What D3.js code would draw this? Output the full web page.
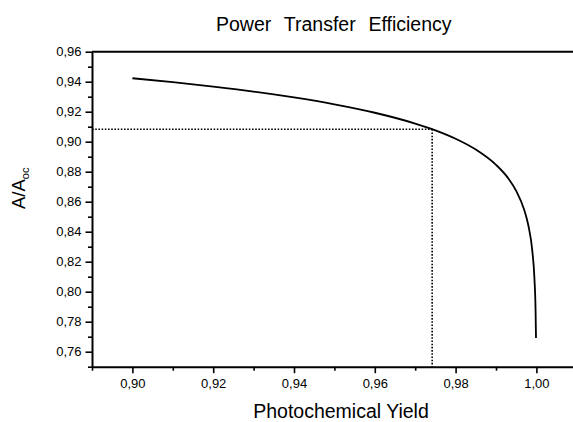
<!DOCTYPE html>
<html>
<head>
<meta charset="utf-8">
<script src="https://cdn.jsdelivr.net/npm/d3@7/dist/d3.min.js"></script>
<style>
  html, body { margin: 0; padding: 0; background: #fff; overflow: hidden; }
  svg { display: block; font-family: "Liberation Sans", Arial, sans-serif; }
</style>
</head>
<body>
<svg id="chart" width="573" height="422"></svg>
<script>
// ---- data ----
const yieldValues = [0.900, 0.910, 0.920, 0.930, 0.940, 0.950, 0.960, 0.970, 0.975, 0.980,
                     0.985, 0.990, 0.993, 0.995, 0.997, 0.998, 0.999, 0.9995, 0.9998, 0.9999];
const ratioValues = [0.9423, 0.9397, 0.9367, 0.9334, 0.9295, 0.9249, 0.9193, 0.9121, 0.9076, 0.9020,
                     0.8948, 0.8846, 0.8757, 0.8672, 0.8544, 0.8443, 0.8269, 0.8095, 0.7866, 0.7692];
const markerX = [0.9742];
const markerY = [0.9083];
const xTickValues = [0.90, 0.92, 0.94, 0.96, 0.98, 1.00];
const xTickLabels = ["0,90", "0,92", "0,94", "0,96", "0,98", "1,00"];
const xMinorValues = [0.89, 0.91, 0.93, 0.95, 0.97, 0.99];
const yTickValues = [0.76, 0.78, 0.80, 0.82, 0.84, 0.86, 0.88, 0.90, 0.92, 0.94, 0.96];
const yTickLabels = ["0,76", "0,78", "0,80", "0,82", "0,84", "0,86", "0,88", "0,90", "0,92", "0,94", "0,96"];
const yMinorValues = [0.75, 0.77, 0.79, 0.81, 0.83, 0.85, 0.87, 0.89, 0.91, 0.93, 0.95];
const xDomain = [0.89, 1.01];
const yDomain = [0.75, 0.96];
const titleText = "Power  Transfer  Efficiency";
const xTitleText = "Photochemical Yield";

// ---- layout ----
const svg = d3.select("#chart");
const mLeft = 92, mTop = 51.7, mBottom = 366.7, mRight = 576.8;

const x = d3.scaleLinear().domain(xDomain).range([mLeft, mRight]);
const y = d3.scaleLinear().domain(yDomain).range([mBottom, mTop]);

// dotted guide lines
const g = svg.append("g");
g.append("line")
  .attr("x1", mLeft).attr("x2", x(markerX[0]))
  .attr("y1", y(markerY[0])).attr("y2", y(markerY[0]))
  .attr("stroke", "#000").attr("stroke-width", 1.6)
  .attr("stroke-dasharray", "1.6,1.6");
g.append("line")
  .attr("x1", x(markerX[0])).attr("x2", x(markerX[0]))
  .attr("y1", y(markerY[0])).attr("y2", mBottom)
  .attr("stroke", "#000").attr("stroke-width", 1.6)
  .attr("stroke-dasharray", "1.6,1.6");

// curve
const pts = yieldValues.map((v, i) => [v, ratioValues[i]]);
const line = d3.line().x(d => x(d[0])).y(d => y(d[1])).curve(d3.curveMonotoneX);
g.append("path").datum(pts)
  .attr("d", line)
  .attr("fill", "none").attr("stroke", "#000").attr("stroke-width", 1.8);

// axes
const yAxis = d3.axisLeft(y).tickValues(yTickValues)
  .tickFormat((d, i) => yTickLabels[i]).tickSize(6.5).tickPadding(4);
const yMinor = d3.axisLeft(y).tickValues(yMinorValues).tickFormat("").tickSize(4);
const xAxis = d3.axisBottom(x).tickValues(xTickValues)
  .tickFormat((d, i) => xTickLabels[i]).tickSize(6.5).tickPadding(6);
const xMinor = d3.axisBottom(x).tickValues(xMinorValues).tickFormat("").tickSize(4);

function style(sel) {
  sel.select(".domain").attr("stroke", "#000").attr("stroke-width", 2);
  sel.selectAll(".tick line").attr("stroke", "#000").attr("stroke-width", 1.6);
  sel.selectAll(".tick text").attr("fill", "#000")
    .style("font-size", "13px").style("font-family", "'Liberation Sans', Arial, sans-serif");
}

svg.append("g").attr("transform", `translate(${mLeft},0)`).call(yMinor).call(style)
  .select(".domain").remove();
svg.append("g").attr("transform", `translate(${mLeft},0)`).call(yAxis.tickSizeOuter(0)).call(style);
svg.append("g").attr("transform", `translate(0,${mBottom})`).call(xMinor).call(style)
  .select(".domain").remove();
svg.append("g").attr("transform", `translate(0,${mBottom})`).call(xAxis.tickSizeOuter(0)).call(style);
// top frame line
svg.append("line")
  .attr("x1", mLeft).attr("x2", x(xDomain[1]))
  .attr("y1", mTop).attr("y2", mTop)
  .attr("stroke", "#000").attr("stroke-width", 2);

// titles
svg.append("text")
  .attr("x", 216).attr("y", 30.5)
  .attr("text-anchor", "start")
  .style("white-space", "pre").attr("xml:space", "preserve")
  .style("font-size", "19.5px").style("word-spacing", "1px")
  .text(titleText);

svg.append("text")
  .attr("x", 341).attr("y", 418)
  .attr("text-anchor", "middle")
  .style("font-size", "19.5px")
  .text(xTitleText);

const yl = svg.append("text")
  .attr("transform", "translate(25,209) rotate(-90)")
  .attr("text-anchor", "start")
  .style("font-size", "18.5px");
yl.append("tspan").text("A/A");
yl.append("tspan").attr("dy", 4).style("font-size", "11px").text("oc");
</script>
</body>
</html>
